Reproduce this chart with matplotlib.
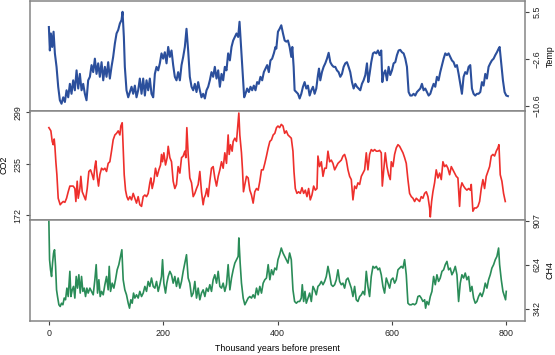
import matplotlib
matplotlib.use("Agg")
import matplotlib.pyplot as plt

plt.rcParams['font.family'] = ['Liberation Sans', 'DejaVu Sans']

# ---------------- data (thousand years before present) ----------------
temp_t = [0, 1.7, 3.5, 5.8, 8.2, 10.5, 13.4, 16.3, 19.2, 22.1, 25.1, 28.0, 30.9, 33.8, 36.7, 39.6, 42.5, 45.4,
          48.4, 51.3, 54.2, 57.1, 60.0, 62.9, 65.8, 68.7, 71.7, 74.6, 77.5, 80.4, 83.3, 86.2, 89.1, 92.1, 95.0,
          97.9, 100.8, 103.7, 106.6, 109.5, 112.4, 115.4, 118.3, 121.2, 124.1, 127.0, 128.8, 131.1, 132.8,
          135.7, 138.7, 141.6, 144.5, 147.4, 150.3, 153.2, 156.1, 159.0, 162.0, 164.9, 167.8, 170.7, 173.6,
          176.5, 179.4, 182.4, 185.3, 188.2, 191.1, 194.0, 196.9, 199.8, 202.7, 205.7, 208.6, 211.5, 214.4,
          217.3, 220.2, 223.1, 226.0, 229.0, 231.9, 234.8, 237.7, 240.6, 243.5, 246.4, 249.4, 252.3, 255.2,
          258.1, 261.0, 263.9, 266.8, 269.7, 272.7, 275.6, 278.5, 281.4, 284.3, 287.2, 290.1, 293.1, 296.0,
          298.9, 301.8, 304.7, 307.6, 310.5, 313.4, 316.4, 319.3, 322.2, 325.1, 328.0, 330.9, 333.3, 335.6,
          338.5, 341.4, 343.7, 346.6, 349.6, 352.5, 355.4, 358.3, 361.2, 364.1, 367.0, 369.9, 372.9, 375.8,
          378.7, 381.6, 384.5, 387.4, 390.3, 393.3, 396.2, 397.6,
          400.5, 403.4, 406.3, 409.3, 412.2, 415.1, 418.0, 420.9, 423.8, 425.6, 427.9, 429.6, 432.6, 435.5,
          438.4, 441.3, 444.2, 447.1, 450.0, 452.9, 455.9, 458.8, 461.7, 464.6, 467.5, 470.4, 472.2, 474.5,
          477.4, 480.3, 483.2, 486.2, 489.1, 492.0, 494.9, 497.8, 500.7, 503.6, 506.5, 509.5, 512.4, 515.3,
          518.2, 521.1, 524.0, 526.9, 529.9, 532.8, 535.7, 538.6, 541.5, 544.4, 547.3, 550.2, 553.2, 556.1,
          558.4, 560.7, 563.6, 566.6, 569.5, 572.4, 575.3, 578.2, 581.1, 582.9, 585.2, 588.1, 591.0, 593.9,
          596.8, 599.8, 602.7, 605.6, 608.5, 611.4, 614.3, 617.2, 620.2, 623.1, 626.0, 628.9, 631.8, 634.7,
          637.6, 640.5, 643.5, 646.4, 649.3, 652.2, 655.1, 658.0, 660.9, 663.9, 666.8, 669.7, 672.6, 675.5,
          678.4, 681.3, 684.2, 687.2, 690.1, 693.0, 695.9, 698.8, 701.7, 704.6, 707.6, 710.5, 713.4, 716.3,
          719.2, 722.1, 725.0, 727.9, 730.9, 733.8, 736.7, 739.6, 742.5, 745.4, 748.3, 751.2, 754.2, 757.1,
          760.0, 762.9, 765.8, 768.7, 771.6, 774.5, 777.5, 780.4, 783.3, 786.2, 788.0, 790.9, 793.8, 796.7,
          799.6, 802.5]
temp_v = [2.9, -1.1, 1.8, -0.5, 2.1, -1.6, -3.9, -7.3, -9.6, -10.2, -9.1, -9.9, -7.9, -9.1, -6.8, -8.5, -6.2, -7.9,
          -4.5, -7.6, -5.1, -7.9, -6.8, -8.5, -9.6, -6.2, -5.6, -3.6, -4.8, -2.5, -5.1, -3.3, -5.6, -3.1, -6.2,
          -3.9, -5.6, -3.1, -5.9, -3.9, -2.2, 0.1, 1.8, 2.4, 3.5, 4.1, 5.5, 1.2, -3.9,
          -7.9, -9.1, -8.2, -7.3, -8.5, -7.1, -9.1, -7.9, -5.9, -8.5, -5.9, -8.8, -6.2, -7.9,
          -5.9, -8.5, -9.1, -5.1, -3.9, -4.5, -3.3, -1.6, -2.5, -1.4, -3.3, -0.5, -2.2, -1.1,
          -3.6, -5.6, -6.2, -4.8, -6.2, -3.6, -2.2, -0.5, 2.6, -1.1, -5.6, -7.3, -7.9, -6.8,
          -8.2, -6.5, -7.9, -9.1, -8.5, -9.3, -7.9, -7.3, -6.2, -4.8, -5.6, -3.9, -5.9, -4.5,
          -7.3, -5.1, -6.2, -3.9, -4.5, -1.6, -2.8, -0.5, 0.6, 1.2, 1.8, 1.2, 3.8, 0.1,
          -4.5, -9.1, -8.5, -7.6, -8.2, -7.3, -7.9, -7.1, -7.9, -6.5, -6.8, -5.6, -6.2, -4.8,
          -4.2, -3.6, -4.8, -2.8, -2.5, -1.6, -0.5, -0.8,
          2.1, 2.6, 3.2, 1.8, 0.6, 0.4, 0.6, -0.5, -2.2, -0.5, -3.9, -7.9, -8.2, -8.5,
          -9.3, -8.5, -7.3, -6.5, -7.6, -7.1, -8.8, -7.9, -7.3, -8.5, -7.6, -5.3, -4.2, -6.2,
          -4.8, -3.9, -3.3, -2.5, -1.5, -3.1, -3.6, -3.9, -3.9, -4.5, -4.8, -5.6, -5.1, -3.9,
          -3.3, -3.1, -3.9, -4.8, -6.5, -7.6, -6.8, -7.3, -7.6, -7.9, -6.8, -6.2, -5.3, -3.3,
          -6.5, -5.1, -3.1, -1.6, -1.4, -1.6, -1.1, -1.9, -1.1, -6.5, -5.1, -4.5, -6.2, -3.9,
          -5.3, -4.5, -3.3, -3.1, -1.9, -1.1, -1.0, -1.4, -1.6, -2.5, -3.9, -8.2, -8.8, -8.8,
          -8.5, -8.8, -8.2, -7.9, -7.6, -6.8, -7.9, -7.6, -8.2, -8.8, -8.5, -7.6, -6.8, -7.3,
          -5.6, -6.2, -4.8, -3.6, -2.5, -1.6, -1.9, -1.6, -2.2, -2.8, -3.1, -3.9, -3.6, -5.1,
          -6.8, -8.5, -5.6, -4.8, -5.1, -3.9, -3.6, -7.6, -8.5, -8.8, -8.5, -8.5, -8.2, -6.5,
          -7.1, -5.1, -5.9, -3.9, -3.3, -2.8, -2.5, -1.9, -1.4, -0.8, -0.5, -3.3, -6.2, -8.2,
          -8.8, -8.9]

co2_t = [0, 1.7, 3.5, 5.8, 7.6, 9.3, 10.5, 12.2, 14.0, 16.3, 18.1, 19.8, 22.1, 25.1, 28.0, 30.9, 33.8, 36.7,
         39.6, 42.5, 45.4, 47.2, 49.5, 51.3, 54.2, 55.9, 58.3, 60.6, 64.1, 67.0, 69.9, 72.8, 75.7, 78.1, 80.4,
         82.1, 84.5, 86.8, 89.1, 92.1, 95.0, 97.9, 100.8, 103.7, 106.6, 109.5, 112.4, 115.4, 118.3, 121.2,
         124.1, 125.8, 128.2, 129.9, 131.7, 134.0, 136.3, 138.7, 141.6, 144.5, 147.4, 150.3, 153.2, 156.1,
         159.0, 162.0, 164.9, 167.8, 170.7, 173.6, 176.5, 178.3, 180.6, 183.5, 186.4, 189.3, 192.3, 195.2,
         196.9, 198.7, 201.0, 203.9, 206.8, 208.6, 211.5, 214.4, 217.3, 220.2, 223.1, 226.0, 229.0, 231.9,
         234.8, 237.7, 239.4, 241.2, 243.5, 246.4, 249.4, 252.3, 255.2, 258.1, 261.0, 263.9, 266.8, 269.7,
         271.5, 273.8, 276.2, 278.5, 281.4, 284.3, 287.2, 290.1, 293.1, 296.0, 298.9, 301.8, 304.7, 307.6,
         310.5, 313.4, 315.2, 317.5, 320.4, 322.2, 325.1, 328.0, 329.7, 332.1, 333.8, 336.7, 338.5, 340.2,
         342.6, 345.5, 348.4, 351.3, 354.2, 357.1, 360.0, 363.0, 365.9, 368.8, 371.7, 374.6, 377.5, 380.4,
         383.4, 386.3, 389.2, 392.1, 395.0, 397.9,
         400.5, 403.4, 406.3, 409.3, 412.2, 415.1, 418.0, 420.9, 423.8, 426.7, 428.5, 430.8, 433.7, 436.6,
         439.5, 442.5, 445.4, 448.3, 451.2, 454.1, 457.0, 459.9, 462.9, 465.8, 468.7, 470.4, 473.3, 476.3,
         479.2, 482.1, 485.0, 487.9, 490.8, 493.7, 496.6, 499.6, 502.5, 505.4, 508.3, 511.2, 514.1, 517.0,
         520.0, 522.9, 525.8, 528.7, 531.6, 534.5, 537.4, 540.3, 543.3, 546.2, 549.1, 552.0, 554.9, 557.8,
         560.7, 563.6, 566.6, 569.5, 572.4, 575.3, 578.2, 581.1, 582.9, 585.2, 588.1, 591.0, 593.9, 596.8,
         598.6, 601.5, 604.4, 607.3, 610.3, 613.2, 616.1, 619.0, 621.9, 624.8, 627.7, 630.6, 633.6, 636.5,
         639.4, 642.3, 645.2, 648.1, 651.0, 653.9, 656.9, 659.8, 662.7, 665.6, 666.8, 669.1, 671.4, 674.3,
         677.2, 680.2, 683.1, 686.0, 688.9, 691.8, 694.7, 697.6, 700.6, 703.5, 706.4, 709.3, 712.2, 715.1,
         718.0, 719.8, 722.1, 725.0, 727.9, 730.8, 733.8, 736.7, 738.4, 741.3, 744.2, 747.2, 750.1, 753.0,
         755.9, 758.8, 761.7, 764.6, 767.5, 770.5, 773.4, 776.3, 779.2, 782.1, 785.0, 786.8, 789.1, 792.0,
         794.9, 797.9]
co2_v = [280, 278, 276, 263, 259, 266, 257, 238, 222, 193, 189, 185, 187, 189, 188, 193, 201, 208,
         208, 208, 205, 189, 214, 193, 205, 220, 201, 197, 191, 205, 226, 228, 222, 216, 232,
         239, 220, 208, 222, 230, 228, 230, 226, 236, 238, 251, 265, 271, 273, 276,
         271, 282, 286, 255, 222, 203, 195, 191, 195, 191, 199, 193, 187, 195,
         185, 183, 195, 197, 195, 199, 212, 218, 205, 214, 230, 220, 228, 234,
         247, 238, 249, 234, 243, 257, 243, 238, 214, 205, 210, 232, 224, 243,
         245, 251, 243, 280, 247, 218, 212, 195, 199, 205, 210, 226, 201, 185,
         193, 197, 205, 195, 214, 230, 232, 218, 208, 220, 228, 238, 230, 249,
         236, 271, 247, 259, 251, 263, 267, 263, 278, 298, 271, 249, 228, 201,
         210, 220, 218, 203, 197, 187, 201, 205, 203, 214, 228, 228, 236, 245,
         255, 263, 265, 271, 273, 280,
         282, 280, 284, 282, 273, 276, 271, 269, 267, 251, 226, 205, 199, 201,
         199, 206, 199, 203, 195, 205, 191, 197, 208, 203, 205, 245, 232, 238,
         220, 230, 230, 251, 238, 240, 236, 228, 232, 236, 238, 240, 245, 247,
         240, 228, 220, 216, 191, 208, 205, 212, 210, 220, 224, 228, 249, 228,
         247, 253, 251, 253, 251, 251, 252, 249, 208, 226, 249, 232, 222, 216,
         238, 232, 247, 255, 259, 257, 253, 249, 243, 236, 216, 199, 195, 193,
         189, 193, 191, 189, 195, 193, 199, 201, 195, 181, 170, 189, 201, 212,
         228, 218, 224, 216, 238, 232, 234, 230, 222, 232, 228, 224, 220, 218,
         183, 205, 212, 208, 205, 203, 205, 203, 210, 177, 181, 181, 183, 189,
         205, 216, 205, 220, 226, 232, 245, 247, 245, 251, 255, 259, 222, 214,
         199, 189]

ch4_t = [0, 1.2, 2.9, 4.7, 6.4, 8.2, 9.9, 11.7, 13.4, 15.1, 17.5, 19.8, 22.1, 24.5, 26.8, 29.1, 31.5, 33.8,
         36.7, 38.5, 40.8, 43.1, 45.4, 47.8, 50.1, 52.4, 54.8, 57.1, 59.4, 61.8, 64.1, 66.4, 68.7, 71.7, 74.6,
         77.5, 80.4, 82.7, 85.1, 87.4, 89.7, 92.1, 95.0, 97.9, 100.8, 103.7, 105.5, 107.8, 110.7, 113.6,
         116.5, 119.4, 122.3, 124.7, 127.6, 129.9, 132.8, 135.7, 138.7, 141.0, 143.3, 145.7, 148.0, 150.3,
         153.2, 156.1, 159.0, 162.0, 164.9, 167.8, 170.7, 173.6, 176.5, 179.4, 182.4, 185.3, 188.2, 191.1,
         194.0, 196.9, 198.7, 201.0, 203.9, 206.2, 208.6, 211.5, 214.4, 217.3, 220.2, 223.1, 226.0, 229.0,
         231.9, 234.8, 237.7, 240.6, 243.5, 246.4, 249.4, 252.3, 255.2, 258.1, 261.0, 263.9, 266.8, 269.7,
         272.7, 275.6, 278.5, 281.4, 284.3, 287.2, 290.1, 293.1, 296.0, 298.9, 301.8, 304.7, 307.6, 310.5,
         313.4, 316.4, 319.3, 322.2, 325.1, 328.0, 330.9, 332.1, 334.4, 336.7, 339.7, 342.6, 345.5, 348.4,
         351.3, 354.2, 357.1, 360.0, 363.0, 365.9, 368.8, 371.7, 374.6, 377.5, 380.4, 383.4, 386.3, 389.2,
         392.1, 395.0, 397.9,
         400.5, 403.4, 406.3, 409.3, 412.2, 415.1, 418.0, 420.9, 423.8, 426.7, 429.6, 432.6, 435.5, 438.4,
         441.3, 443.0, 445.4, 447.7, 450.0, 452.9, 455.9, 458.8, 461.7, 464.6, 467.5, 470.4, 473.3, 476.3,
         479.2, 482.1, 485.0, 487.9, 490.8, 493.7, 496.6, 499.6, 502.5, 505.4, 508.3, 511.2, 514.1, 517.0,
         520.0, 522.9, 525.8, 528.7, 531.6, 534.5, 537.4, 540.3, 543.3, 546.2, 549.1, 552.0, 554.9, 557.8,
         560.7, 563.6, 566.6, 569.5, 572.4, 575.3, 578.2, 581.1, 584.0, 586.9, 589.9, 592.8, 595.7, 598.6,
         601.5, 604.4, 607.3, 610.3, 613.2, 616.1, 619.0, 621.9, 624.8, 627.7, 630.6, 633.6, 636.5, 639.4,
         642.3, 645.2, 648.1, 651.0, 653.9, 656.9, 658.6, 660.9, 663.9, 666.8, 669.7, 672.6, 675.5, 678.4,
         681.3, 684.2, 687.2, 690.1, 693.0, 695.9, 698.8, 701.7, 704.6, 707.6, 710.5, 713.4, 716.3, 719.2,
         722.1, 725.0, 727.9, 730.8, 733.8, 736.7, 739.6, 742.5, 745.4, 748.3, 751.2, 754.2, 757.1, 760.0,
         762.9, 765.8, 768.7, 771.6, 774.5, 777.5, 780.4, 783.3, 786.2, 788.0, 790.9, 793.8, 796.7, 798.4,
         799.6]
ch4_v = [905, 658, 593, 550, 636, 701, 722, 615, 464, 421, 368, 357, 378, 368, 411, 400, 475, 421,
         583, 421, 464, 486, 411, 550, 475, 561, 443, 550, 454, 475, 421, 475, 443, 475, 454,
         432, 529, 626, 443, 529, 421, 454, 432, 497, 550, 464, 615, 454, 507, 475,
         529, 593, 626, 669, 722, 529, 464, 432, 378, 346, 400, 378, 443, 411,
         432, 411, 454, 421, 443, 486, 454, 518, 486, 540, 486, 475, 518, 454,
         497, 550, 658, 507, 443, 507, 550, 583, 561, 507, 550, 486, 540, 475,
         518, 583, 636, 690, 540, 507, 421, 443, 518, 411, 475, 400, 443, 464,
         421, 475, 454, 497, 454, 529, 561, 507, 583, 486, 475, 507, 454, 497,
         626, 464, 540, 593, 636, 658, 679, 798, 636, 507, 411, 368, 389, 411,
         421, 411, 432, 411, 475, 432, 486, 443, 507, 529, 540, 626, 529, 593,
         561, 604, 593,
         658, 690, 733, 701, 679, 658, 636, 701, 658, 464, 389, 378, 389, 389,
         411, 497, 389, 454, 378, 411, 443, 389, 486, 464, 432, 486, 497, 518,
         497, 518, 550, 615, 561, 497, 486, 497, 529, 593, 518, 497, 507, 475,
         529, 540, 507, 475, 421, 486, 400, 389, 421, 432, 454, 432, 583, 486,
         421, 550, 615, 604, 615, 593, 604, 561, 486, 443, 540, 507, 475, 529,
         540, 507, 529, 593, 604, 615, 604, 658, 561, 378, 368, 368, 374, 368,
         378, 421, 426, 411, 389, 400, 346, 389, 368, 421, 454, 550, 497, 561,
         518, 540, 583, 593, 626, 647, 593, 604, 561, 583, 615, 561, 389, 507,
         561, 540, 572, 529, 550, 454, 486, 411, 378, 389, 421, 443, 421, 454,
         507, 475, 529, 561, 604, 626, 658, 679, 733, 626, 529, 454, 421, 400,
         454]

x_ticks = [0, 200, 400, 600, 800]
temp_ticks = [5.5, -2.6, -10.6]
co2_ticks = [299, 235, 172]
ch4_ticks = [907, 624, 342]

# ---------------- figure ----------------
W_PX, H_PX = 555, 355
fig = plt.figure(figsize=(W_PX / 100, H_PX / 100), dpi=100)
left_px, right_px = 30.0, 524.5
frame_col = '#858585'
fs = 6.4


def add_panel(top_px, bot_px):
    return fig.add_axes([left_px / W_PX, 1 - bot_px / H_PX,
                         (right_px - left_px) / W_PX, (bot_px - top_px) / H_PX])


ax1 = add_panel(0.8, 110.6)
ax2 = add_panel(110.6, 219.6)
ax3 = add_panel(219.6, 320.6)

ax1.plot(temp_t, temp_v, color='#2b4f9c', lw=1.5)
ax2.plot(co2_t, co2_v, color='#ee2f2c', lw=1.2)
ax3.plot(ch4_t, ch4_v, color='#2a8c58', lw=1.2)

ax1.set_ylim(-11.37, 7.38)
ax2.set_ylim(166.7, 301.0)
ax3.set_ylim(266, 916)

for ax in (ax1, ax2, ax3):
    ax.set_xlim(-33.0, 831.5)
    for s in ax.spines.values():
        s.set_color(frame_col)
        s.set_linewidth(1.1)
    ax.tick_params(colors='#444444', labelcolor='#222222', labelsize=fs,
                   length=3.2, width=0.8, pad=2.5)

for ax in (ax1, ax2):
    ax.set_xticks([])

ax3.set_xticks(x_ticks)
ax3.set_xticklabels([str(v) for v in x_ticks])
ax3.set_xlabel('Thousand years before present', fontsize=fs, labelpad=4.5)

# Temp: right side
ax1.yaxis.tick_right()
ax1.set_yticks(temp_ticks)
ax1.set_yticklabels(['5.5', '\u22122.6', '\u221210.6'], rotation=90, va='center')
ax1.yaxis.set_label_position('right')
ax1.set_ylabel('Temp', fontsize=fs, rotation=90, labelpad=3)

# CO2: left side
ax2.yaxis.tick_left()
ax2.set_yticks(co2_ticks)
ax2.set_yticklabels([str(v) for v in co2_ticks], rotation=90, va='center')
ax2.set_ylabel('CO2', fontsize=fs, rotation=90, labelpad=3)

# CH4: right side
ax3.yaxis.tick_right()
ax3.set_yticks(ch4_ticks)
ax3.set_yticklabels([str(v) for v in ch4_ticks], rotation=90, va='center')
ax3.yaxis.set_label_position('right')
ax3.set_ylabel('CH4', fontsize=fs, rotation=90, labelpad=3)

fig.savefig('out.png', dpi=100)
